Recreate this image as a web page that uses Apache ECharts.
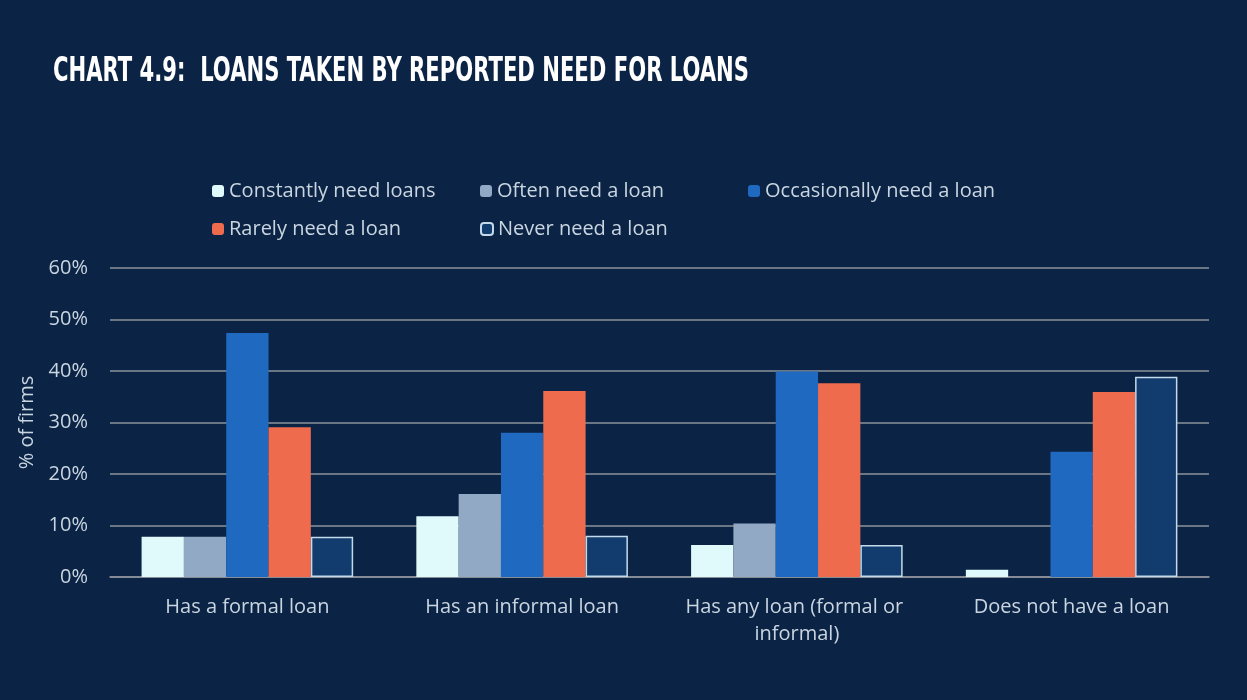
<!DOCTYPE html>
<html>
<head>
<meta charset="utf-8">
<script src="https://cdn.jsdelivr.net/npm/echarts@6/dist/echarts.min.js"></script>
<style>
  html, body { margin: 0; padding: 0; background: #0B2345; }
  #chart { width: 1247px; height: 700px; }
</style>
</head>
<body>
<div id="chart"></div>
<script>
// Loan holding status of firms
const categories = ['Has a formal loan', 'Has an informal loan', 'Has any loan (formal or informal)', 'Does not have a loan'];

// Share of firms (%) by how often they report needing a loan
const constantlyNeed = [7.8, 11.8, 6.2, 1.4];
const oftenNeed = [7.8, 16.1, 10.4, 0];
const occasionallyNeed = [47.4, 28.0, 39.9, 24.3];
const rarelyNeed = [29.1, 36.1, 37.6, 35.9];
const neverNeed = [7.8, 8.0, 6.2, 38.9];

const seriesNames = ['Constantly need loans', 'Often need a loan', 'Occasionally need a loan', 'Rarely need a loan', 'Never need a loan'];
const yTicks = [0, 10, 20, 30, 40, 50, 60];
const titleText = 'CHART 4.9:  LOANS TAKEN BY REPORTED NEED FOR LOANS';

const FONT = 'Open Sans';
const TEXT = '#C9D5E0';

// Condensed headline: squeeze the bold face to the headline width
const TITLE_FONT = 'bold 33px "DejaVu Sans Condensed"';
const TITLE_WIDTH = 696;
const measureCtx = document.createElement('canvas').getContext('2d');
measureCtx.font = TITLE_FONT;
const titleScale = TITLE_WIDTH / measureCtx.measureText(titleText).width;

const chart = echarts.init(document.getElementById('chart'));

function bar(name, data, color, extra) {
  return Object.assign({
    name: name,
    type: 'bar',
    data: data,
    barGap: '0%',
    barCategoryGap: '23%',
    itemStyle: { color: color },
    emphasis: { disabled: true }
  }, extra || {});
}

chart.setOption({
  backgroundColor: '#0B2345',
  animation: false,
  graphic: [{
    type: 'text',
    x: 53,
    y: 72,
    scaleX: titleScale,
    style: {
      text: titleText,
      font: TITLE_FONT,
      fill: '#FFFFFF',
      textAlign: 'left',
      textVerticalAlign: 'middle'
    }
  }],
  legend: {
    left: 212,
    top: 172,
    width: 830,
    itemGap: 0,
    itemWidth: 12,
    itemHeight: 12,
    padding: 0,
    data: seriesNames,
    textStyle: {
      color: TEXT,
      fontFamily: FONT,
      fontSize: 20,
      width: 251,
      padding: [0, 0, 0, 0],
      lineHeight: 38
    }
  },
  grid: { left: 110, right: 38, top: 268, bottom: 123 },
  xAxis: {
    type: 'category',
    data: categories,
    axisLine: { lineStyle: { color: '#8E949C', width: 1.5 } },
    axisTick: { show: false },
    axisLabel: {
      interval: 0,
      color: TEXT,
      fontFamily: FONT,
      fontSize: 20,
      margin: 17,
      lineHeight: 27,
      width: 262,
      overflow: 'break'
    }
  },
  yAxis: {
    type: 'value',
    min: yTicks[0],
    max: yTicks[yTicks.length - 1],
    interval: 10,
    name: '% of firms',
    nameLocation: 'middle',
    nameGap: 61,
    nameTextStyle: { color: TEXT, fontFamily: FONT, fontSize: 20 },
    axisLine: { show: false },
    axisTick: { show: false },
    axisLabel: {
      color: TEXT,
      fontFamily: FONT,
      fontSize: 20,
      margin: 22,
      formatter: v => v + '%'
    },
    splitLine: { lineStyle: { color: '#8E949C', width: 1.5 } }
  },
  series: [
    bar(seriesNames[0], constantlyNeed, '#E0FAFC'),
    bar(seriesNames[1], oftenNeed, '#91A9C4'),
    bar(seriesNames[2], occasionallyNeed, '#1F69C0'),
    bar(seriesNames[3], rarelyNeed, '#EE6C4D'),
    bar(seriesNames[4], neverNeed, '#133C6E', {
      itemStyle: { color: '#133C6E', borderColor: '#C4DAEA', borderWidth: 1.5 }
    })
  ]
});
</script>
</body>
</html>
